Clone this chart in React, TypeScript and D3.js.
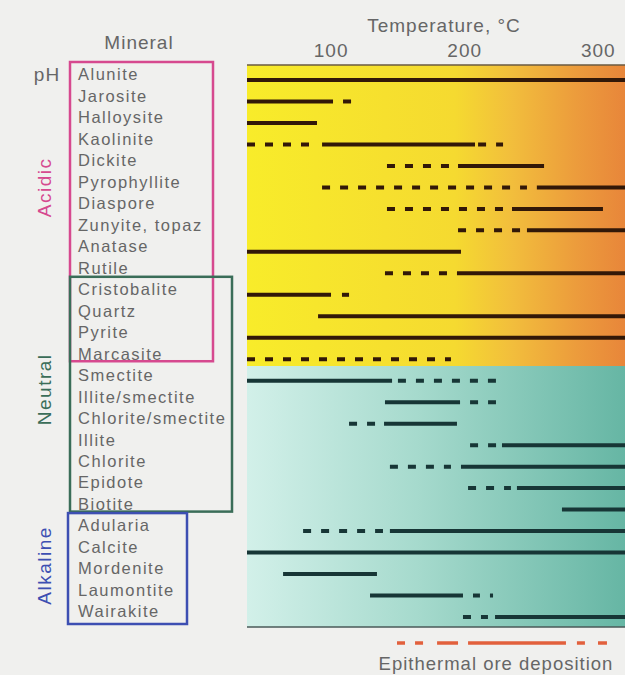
import React from 'react';
import * as d3 from 'd3';

const minerals = [
  'Alunite', 'Jarosite', 'Halloysite', 'Kaolinite', 'Dickite', 'Pyrophyllite',
  'Diaspore', 'Zunyite, topaz', 'Anatase', 'Rutile', 'Cristobalite', 'Quartz',
  'Pyrite', 'Marcasite', 'Smectite', 'Illite/smectite', 'Chlorite/smectite',
  'Illite', 'Chlorite', 'Epidote', 'Biotite', 'Adularia', 'Calcite',
  'Mordenite', 'Laumontite', 'Wairakite',
];

const S = 'solid';
const D = 'dashed';

// temperature ranges (°C) per mineral: [from, to, style]
const mineralRanges: [number, number, string][][] = [
  [[37, 320, S]],
  [[37, 101.4, S], [108.9, 114.9, S]],
  [[37, 89.4, S]],
  [[37, 85.7, D], [93.2, 207.7, S], [210, 228.7, D]],
  [[141.8, 189, D], [195, 259.4, S]],
  [[93.2, 246.6, D], [254, 320, S]],
  [[141.8, 228.7, D], [235.4, 303.5, S]],
  [[195, 242.9, D], [246.6, 320, S]],
  [[37, 197.2, S]],
  [[140.3, 187.5, D], [194.2, 320, S]],
  [[37, 99.9, S], [108.1, 113.4, S]],
  [[90.2, 320, S]],
  [[37, 320, S]],
  [[37, 189.7, D]],
  [[37, 145.6, S], [150, 224.2, D]],
  [[140.3, 196.5, S], [204, 223.4, D]],
  [[113.4, 134.3, D], [139.6, 194.2, S]],
  [[204, 224.2, D], [227.9, 320, S]],
  [[144, 189.7, D], [197.2, 320, S]],
  [[202.5, 234.6, D], [239.1, 320, S]],
  [[272.8, 320, S]],
  [[79, 138.8, D], [144, 320, S]],
  [[37, 320, S]],
  [[64, 134.3, S]],
  [[129.1, 198.7, S], [206.2, 211.4, S], [218.9, 221.2, S]],
  [[198.7, 217.4, D], [222.7, 320, S]],
];

const tempTicks = [100, 200, 300];

const groupNames = ['Acidic', 'Neutral', 'Alkaline'];
const groupFirst = [0, 10, 21];
const groupLast = [13, 20, 25];
const groupLabelRow = [5, 14.4, 22.6];
const groupColors = ['#d6498f', '#3a6d58', '#3d4fb2'];

const oreSegments: [number, number][] = [
  [149.3, 155.3], [162.8, 168.8], [179.3, 195], [202.5, 275.8], [284, 290], [299.8, 306.5],
];

const FONT = '"Liberation Sans", Arial, Helvetica, sans-serif';

export default function App() {
  const W = 625;
  const H = 675;
  const x = d3.scaleLinear().domain([37, 320]).range([247, 625]);
  const y = d3.scalePoint<string>().domain(minerals).range([80, 617]);
  const rowStep = (y(minerals[1])! - y(minerals[0])!);
  const rowY = (i: number) => y(minerals[0])! + i * rowStep;

  const plotTop = 65;
  const splitY = 366;
  const plotBottom = 627;
  const boxX = [[70, 213], [70, 232], [68, 187]];

  return (
    <svg width={W} height={H} style={{ position: 'absolute', left: 0, top: 0, display: 'block' }}>
      <defs>
        <linearGradient id="warm" x1="0" y1="0" x2="1" y2="0">
          <stop offset="0" stopColor="#f8ec2a" />
          <stop offset="0.55" stopColor="#f5da30" />
          <stop offset="0.7" stopColor="#f2be3c" />
          <stop offset="0.87" stopColor="#ec9c3c" />
          <stop offset="1" stopColor="#e8863a" />
        </linearGradient>
        <linearGradient id="cool" x1="0" y1="0" x2="1" y2="0">
          <stop offset="0" stopColor="#d2f0e9" />
          <stop offset="0.45" stopColor="#a6dacd" />
          <stop offset="1" stopColor="#66b6a4" />
        </linearGradient>
      </defs>
      <rect x={0} y={0} width={W} height={H} fill="#f0f0ee" />
      <rect x={x(37)} y={plotTop} width={x(320) - x(37)} height={splitY - plotTop} fill="url(#warm)" />
      <rect x={x(37)} y={splitY} width={x(320) - x(37)} height={plotBottom - splitY} fill="url(#cool)" />
      <line x1={x(37)} x2={x(320)} y1={plotTop} y2={plotTop} stroke="#6a5a40" strokeWidth={1.5} />
      <line x1={x(37)} x2={x(320)} y1={plotBottom} y2={plotBottom} stroke="#4a5a58" strokeWidth={1.5} />

      {/* headers */}
      <text x={444} y={27} fontFamily={FONT} fontSize={19} letterSpacing={1} fill="#666" textAnchor="middle" dominantBaseline="middle">Temperature, °C</text>
      {tempTicks.map((t) => (
        <text key={t} x={x(t)} y={52} fontFamily={FONT} fontSize={19} letterSpacing={1} fill="#666" textAnchor="middle" dominantBaseline="middle">{t}</text>
      ))}
      <text x={139} y={44} fontFamily={FONT} fontSize={19} letterSpacing={1} fill="#666" textAnchor="middle" dominantBaseline="middle">Mineral</text>
      <text x={47} y={y(minerals[0])! - 4} fontFamily={FONT} fontSize={19} letterSpacing={1} fill="#666" textAnchor="middle" dominantBaseline="middle">pH</text>

      {/* group boxes */}
      {groupNames.map((g, i) => (
        <rect key={g} x={boxX[i][0]} y={rowY(groupFirst[i]) - 18} width={boxX[i][1] - boxX[i][0]}
          height={rowY(groupLast[i]) - rowY(groupFirst[i]) + (i === 2 ? 25 : 20)}
          fill="none" stroke={groupColors[i]} strokeWidth={2.5} />
      ))}
      {groupNames.map((g, i) => (
        <text key={g} transform={`translate(46,${rowY(groupLabelRow[i])}) rotate(-90)`}
          fontFamily={FONT} fontSize={19} letterSpacing={1.5} fill={groupColors[i]}
          textAnchor="middle" dominantBaseline="middle">{g}</text>
      ))}

      {/* mineral labels */}
      {minerals.map((m) => (
        <text key={m} x={78} y={y(m)! - 4} fontFamily={FONT} fontSize={16.5} letterSpacing={1.5}
          fill="#666" dominantBaseline="middle">{m}</text>
      ))}

      {/* ranges */}
      {mineralRanges.map((segs, i) =>
        segs.map((s, j) => (
          <line key={`${i}-${j}`} x1={x(s[0])} x2={x(s[1])} y1={y(minerals[i])} y2={y(minerals[i])}
            stroke={i <= 13 ? '#321808' : '#173636'} strokeWidth={4}
            strokeDasharray={s[2] === D ? '8,10' : undefined} />
        ))
      )}

      {/* ore deposition */}
      {oreSegments.map((s, i) => (
        <line key={i} x1={x(s[0])} x2={x(s[1])} y1={643} y2={643} stroke="#e2603c" strokeWidth={3.5} />
      ))}
      <text x={496} y={665} fontFamily={FONT} fontSize={18.5} letterSpacing={1} fill="#666" textAnchor="middle" dominantBaseline="middle">Epithermal ore deposition</text>
    </svg>
  );
}
